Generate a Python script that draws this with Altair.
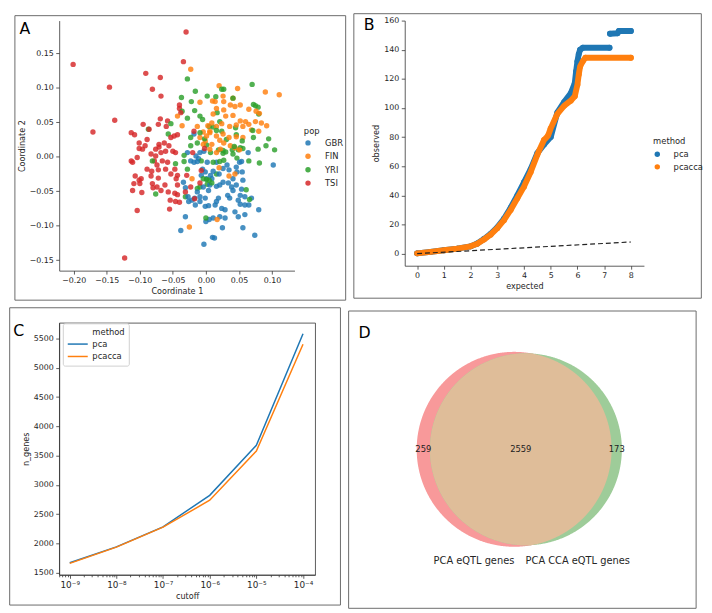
import math
import numpy as np
import pandas as pd
import altair as alt

FONT = "DejaVu Sans"
INK = "#262626"
BORDER = "#6b6b6b"

# ---------------- Panel A: MDS coordinates per population ----------------
pop_names = ["GBR", "FIN", "YRI", "TSI"]
pop_colors = ["#1f77b4", "#ff7f0e", "#2ca02c", "#d62728"]

gbr_pts = [(-0.018, 0.033), (-0.028, 0.006), (-0.015, 0.001), (-0.011, -0.003), (-0.003, 0.008),
           (0.002, -0.008), (-0.005, -0.018), (-0.001, -0.022), (0.001, -0.032), (-0.007, -0.027),
           (0.007, -0.027), (0.016, -0.008), (0.026, -0.017), (0.032, -0.012), (0.035, -0.019),
           (0.041, -0.032), (0.047, -0.022), (0.055, -0.022), (0.064, 0.006), (0.102, -0.012),
           (0.054, -0.007), (-0.031, -0.045), (-0.034, -0.037), (-0.017, -0.060), (-0.009, -0.065),
           (-0.001, -0.072), (0.004, -0.071), (0.014, -0.070), (0.016, -0.065), (0.019, -0.060),
           (0.024, -0.075), (0.029, -0.077), (0.033, -0.056), (0.036, -0.060), (0.041, -0.049),
           (0.052, -0.056), (0.052, -0.069), (0.049, -0.063), (0.054, -0.047), (0.059, -0.058),
           (0.065, -0.070), (0.069, -0.060), (0.059, -0.084), (0.049, -0.087), (0.044, -0.080),
           (0.029, -0.089), (0.021, -0.087), (0.011, -0.089), (0.005, -0.091), (0.000, -0.094),
           (-0.016, -0.070), (-0.021, -0.063), (-0.031, -0.087), (-0.038, -0.107), (-0.003, -0.127),
           (0.010, -0.117), (0.013, -0.118), (0.025, -0.103), (0.056, -0.103), (0.074, -0.114),
           (0.080, -0.077), (0.059, -0.070), (0.016, -0.043), (0.021, -0.041), (0.009, -0.032),
           (0.006, -0.041), (0.026, -0.037), (0.034, -0.038), (0.039, -0.044), (0.046, -0.041),
           (0.056, -0.034), (0.046, -0.015), (0.051, -0.008), (-0.009, -0.058), (-0.001, -0.060),
           (0.004, -0.049), (-0.004, -0.044), (-0.018, -0.008), (-0.023, -0.006), (-0.013, -0.007),
           (-0.009, 0.006), (0.011, -0.021), (0.020, -0.025), (-0.027, -0.058), (-0.026, -0.065),
           (-0.013, -0.051)]

fin_pts = [(-0.023, 0.127), (0.020, 0.103), (0.048, 0.099), (0.090, 0.094), (0.111, 0.090),
           (0.026, 0.088), (0.041, 0.085), (-0.009, 0.079), (0.010, 0.081), (0.014, 0.080),
           (0.027, 0.080), (0.037, 0.075), (0.044, 0.073), (0.052, 0.075), (0.065, 0.069),
           (0.076, 0.066), (0.081, 0.063), (0.016, 0.070), (0.011, 0.062), (0.027, 0.068),
           (0.030, 0.059), (0.041, 0.060), (0.052, 0.052), (0.060, 0.051), (0.065, 0.047),
           (0.075, 0.051), (0.084, 0.049), (0.092, 0.045), (0.080, 0.037), (0.069, 0.039),
           (0.056, 0.044), (0.046, 0.046), (0.036, 0.044), (0.024, 0.048), (0.016, 0.044),
           (0.003, 0.045), (-0.004, 0.036), (0.006, 0.035), (0.016, 0.030), (0.026, 0.033),
           (0.035, 0.028), (0.046, 0.029), (0.056, 0.028), (-0.013, 0.044), (-0.009, 0.028),
           (-0.001, 0.023), (0.009, 0.018), (0.021, 0.024), (0.027, 0.020), (0.037, 0.016),
           (0.044, 0.013), (0.051, 0.010), (0.022, 0.011), (0.016, 0.006), (0.006, 0.011),
           (-0.004, 0.018), (-0.043, 0.059), (-0.036, 0.045), (-0.021, -0.032), (-0.025, -0.102),
           (0.017, -0.091), (0.035, -0.028), (0.044, -0.025), (0.020, -0.016), (0.006, 0.037),
           (0.001, 0.030), (0.009, 0.049)]

yri_pts = [(-0.028, 0.113), (-0.016, 0.095), (0.024, 0.098), (0.027, 0.098), (0.070, 0.105),
           (-0.037, 0.086), (-0.022, 0.080), (0.002, 0.088), (0.015, 0.087), (0.017, 0.064),
           (0.041, 0.085), (0.072, 0.076), (0.075, 0.074), (0.079, 0.072), (0.080, 0.062),
           (-0.036, 0.066), (-0.017, 0.067), (-0.009, 0.059), (-0.005, 0.054), (-0.028, 0.056),
           (-0.053, 0.048), (-0.057, 0.033), (-0.087, 0.040), (0.005, 0.044), (0.011, 0.043),
           (0.021, 0.051), (0.024, 0.037), (0.031, 0.025), (0.045, 0.042), (0.046, 0.032),
           (0.071, 0.038), (0.072, 0.028), (0.095, 0.026), (0.079, 0.011), (0.091, 0.016),
           (0.104, 0.010), (-0.013, 0.020), (0.001, 0.017), (0.007, 0.006), (0.019, 0.010),
           (0.026, 0.009), (0.030, 0.007), (0.040, 0.010), (0.049, 0.010), (0.052, 0.013),
           (0.056, 0.012), (0.055, 0.023), (-0.002, 0.026), (-0.023, 0.016), (-0.033, 0.002),
           (-0.081, -0.006), (-0.046, -0.010), (-0.033, -0.007), (-0.028, -0.018), (-0.007, -0.006),
           (0.011, -0.008), (0.021, -0.007), (0.027, -0.005), (0.047, -0.002), (0.065, -0.006),
           (0.081, -0.009), (0.001, -0.033), (0.002, -0.040), (-0.013, -0.046), (-0.009, -0.044),
           (-0.004, -0.032), (0.005, -0.034), (0.009, -0.038), (0.016, -0.025), (0.000, -0.089),
           (0.066, -0.062), (0.061, -0.048), (-0.076, -0.054), (-0.031, -0.058), (0.026, 0.005),
           (0.041, 0.004), (-0.023, 0.028), (-0.009, 0.035), (0.016, 0.038), (0.043, 0.015)]

tsi_pts = [(-0.201, 0.134), (-0.030, 0.181), (-0.034, 0.138), (-0.146, 0.101), (-0.091, 0.121),
           (-0.069, 0.115), (-0.081, 0.098), (-0.068, 0.088), (-0.138, 0.053), (-0.171, 0.036),
           (-0.123, -0.147), (-0.104, -0.078), (-0.055, -0.076), (-0.040, 0.075), (-0.040, 0.070),
           (-0.038, 0.064), (-0.069, 0.055), (-0.058, 0.052), (-0.072, 0.047), (-0.060, 0.044),
           (-0.095, 0.047), (-0.113, 0.035), (-0.108, 0.032), (-0.089, 0.025), (-0.101, 0.012),
           (-0.096, 0.011), (-0.092, 0.016), (-0.111, -0.008), (-0.113, -0.006), (-0.104, -0.001),
           (-0.083, 0.004), (-0.076, 0.011), (-0.071, 0.018), (-0.071, 0.014), (-0.063, 0.020),
           (-0.056, 0.016), (-0.053, 0.028), (-0.048, 0.030), (-0.043, 0.032), (-0.050, 0.008),
           (-0.046, 0.006), (-0.061, 0.008), (-0.068, 0.006), (-0.076, 0.001), (-0.078, -0.006),
           (-0.066, -0.006), (-0.058, -0.008), (-0.074, -0.012), (-0.089, -0.018), (-0.082, -0.021),
           (-0.072, -0.019), (-0.061, -0.018), (-0.047, -0.018), (-0.043, -0.027), (-0.053, -0.025),
           (-0.072, -0.031), (-0.083, -0.028), (-0.098, -0.032), (-0.101, -0.034), (-0.109, -0.039),
           (-0.100, -0.039), (-0.111, -0.049), (-0.097, -0.052), (-0.081, -0.039), (-0.080, -0.045),
           (-0.074, -0.044), (-0.062, -0.041), (-0.045, -0.032), (-0.043, -0.041), (-0.047, -0.053),
           (-0.057, -0.051), (-0.068, -0.049), (-0.054, -0.063), (-0.046, -0.065), (-0.040, -0.066),
           (-0.043, -0.055), (-0.031, -0.051), (-0.017, -0.061), (-0.023, -0.044), (-0.009, -0.038),
           (-0.020, 0.006), (-0.018, 0.037), (-0.002, 0.012), (-0.007, -0.020), (-0.029, -0.027),
           (-0.086, 0.040), (-0.101, 0.020), (-0.107, -0.028)]

a_xticks = [-0.20, -0.15, -0.10, -0.05, 0.00, 0.05, 0.10]
a_yticks = [-0.15, -0.10, -0.05, 0.00, 0.05, 0.10, 0.15]

# ---------------- Panel B: QQ plot ----------------
b_exp_pca = [0, 0.5, 1, 1.5, 2, 2.25, 2.5, 2.75, 3, 3.25, 3.5, 3.75, 4, 4.25, 4.5, 4.75, 5, 5.25,
             5.5, 5.75, 5.9, 5.95, 6.0, 6.05, 6.1, 6.2, 7.2, 7.22, 7.5, 7.55, 8.0]
b_obs_pca = [0.2, 1.2, 2.3, 3.4, 5.0, 7, 10, 13.5, 18, 24, 31.5, 40, 49, 58, 69, 75, 80, 97,
             104, 110, 117, 125, 132, 137, 140, 141.3, 141.3, 151, 151.3, 152.8, 152.8]
b_seg_pca = [0] * 27 + [1] * 4
b_exp_pcacca = [0, 0.5, 1, 1.5, 2, 2.25, 2.5, 2.75, 3, 3.25, 3.5, 3.75, 4, 4.25, 4.5, 4.75, 4.9,
                5, 5.25, 5.5, 5.75, 5.9, 6.0, 6.05, 6.1, 6.2, 6.3, 8.0]
b_obs_pcacca = [0.2, 1.2, 2.3, 3.4, 5.0, 6.8, 9.7, 13, 17.5, 23, 30, 38, 46, 56, 68, 78, 81,
                86, 96, 101.5, 105, 108, 116, 123, 128.5, 132, 134.5, 134.5]
b_diag = [0, 8]
methods = ["pca", "pcacca"]
method_colors = ["#1f77b4", "#ff7f0e"]

# ---------------- Panel C: genes vs cutoff ----------------
cutoffs = [1e-9, 1e-8, 1e-7, 1e-6, 1e-5, 1e-4]
n_genes_pca = [1668, 1938, 2281, 2820, 3675, 5584]
n_genes_pcacca = [1657, 1935, 2276, 2736, 3578, 5404]
c_yticks = [1500, 2000, 2500, 3000, 3500, 4000, 4500, 5000, 5500]

# ---------------- Panel D: Venn ----------------
venn_a_only = 259
venn_both = 2559
venn_b_only = 173
venn_set_labels = ["PCA eQTL genes", "PCA CCA eQTL genes"]
venn_colors = ["#f8999a", "#9ecc99", "#dfbd99"]


# ---------- helpers ----------
def frame(x1, x2, y1, y2):
    return alt.Chart(pd.DataFrame({"k": [0]})).mark_rect(
        filled=False, stroke=BORDER, strokeWidth=1
    ).encode(x=alt.value(x1), x2=alt.value(x2), y=alt.value(y1), y2=alt.value(y2))


def letter(t, x, y):
    return alt.Chart(pd.DataFrame({"t": [t]})).mark_text(
        align="left", baseline="alphabetic", font=FONT, fontSize=16, color="black"
    ).encode(text="t:N", x=alt.value(x), y=alt.value(y))


# ---------- Panel A ----------
rows = []
groups = [gbr_pts, fin_pts, yri_pts, tsi_pts]
for i in range(max(len(g) for g in groups)):
    for name, g in zip(pop_names, groups):
        if i < len(g):
            rows.append({"c1": g[i][0], "c2": g[i][1], "pop": name})
df_a = pd.DataFrame(rows)

scatter_a = alt.Chart(df_a).mark_circle(size=30, opacity=0.82).encode(
    x=alt.X("c1:Q", scale=alt.Scale(domain=[-0.2221, 0.1341], nice=False, zero=False),
            axis=alt.Axis(values=a_xticks, format=".2f", title="Coordinate 1")),
    y=alt.Y("c2:Q", scale=alt.Scale(domain=[-0.1653, 0.1976], nice=False, zero=False),
            axis=alt.Axis(values=a_yticks, format=".2f", title="Coordinate 2")),
    color=alt.Color("pop:N", sort=pop_names,
                    scale=alt.Scale(domain=pop_names, range=pop_colors),
                    legend=alt.Legend(title="pop", orient="none", legendX=248.5, legendY=108.5,
                                      symbolSize=30, labelOffset=13, titlePadding=3,
                                      rowPadding=4.6, symbolOpacity=0.85)),
)
panel_a = alt.layer(scatter_a, letter("A", -40.3, 13.7), frame(-45, 291, -5, 284)).properties(
    width=239, height=254)

# ---------- Panel B ----------
df_b = pd.concat([
    pd.DataFrame({"expected": b_exp_pca, "observed": b_obs_pca, "seg": b_seg_pca, "method": "pca"}),
    pd.DataFrame({"expected": b_exp_pcacca, "observed": b_obs_pcacca,
                  "seg": [0] * len(b_exp_pcacca), "method": "pcacca"}),
], ignore_index=True)
bx = alt.X("expected:Q", scale=alt.Scale(domain=[-0.464, 8.49], nice=False, zero=False),
           axis=alt.Axis(values=list(range(0, 9)), title="expected"))
by = alt.Y("observed:Q", scale=alt.Scale(domain=[-8.3, 160.0], nice=False, zero=False),
           axis=alt.Axis(values=list(range(0, 161, 20)), title="observed"))

pts_b = alt.Chart(df_b).mark_circle(size=36, opacity=1).encode(
    x=bx, y=by,
    color=alt.Color("method:N", scale=alt.Scale(domain=methods, range=method_colors),
                    legend=alt.Legend(title="method", orient="none", legendX=252.3, legendY=118,
                                      symbolSize=30, labelOffset=12.3, titlePadding=5,
                                      rowPadding=3.8)),
)
line_pca = alt.Chart(df_b[df_b.method == "pca"]).mark_line(
    strokeWidth=6, strokeCap="round", strokeJoin="round", color=method_colors[0]
).encode(x=bx, y=by, detail="seg:N")
line_pcacca = alt.Chart(df_b[df_b.method == "pcacca"]).mark_line(
    strokeWidth=6, strokeCap="round", strokeJoin="round", color=method_colors[1]
).encode(x=bx, y=by, detail="seg:N")
diag = alt.Chart(pd.DataFrame({"expected": b_diag, "observed": b_diag})).mark_line(
    color="#222222", strokeDash=[5, 3], strokeWidth=1.2
).encode(x=bx, y=by)

panel_b = alt.layer(
    pts_b, line_pca, line_pcacca, diag, letter("B", -41.7, 10), frame(-51.7, 301.3, -7, 282)
).properties(width=243, height=249)

# ---------- Panel C ----------
df_c = pd.concat([
    pd.DataFrame({"cutoff": cutoffs, "n_genes": n_genes_pca, "method": "pca"}),
    pd.DataFrame({"cutoff": cutoffs, "n_genes": n_genes_pcacca, "method": "pcacca"}),
], ignore_index=True)
c_lo, c_hi = -9.226, -3.74
c_scale = alt.Scale(type="log", domain=[10 ** c_lo, 10 ** c_hi], nice=False)
expr = ("datum.value < 3e-9 ? '10⁻⁹' : datum.value < 3e-8 ? '10⁻⁸' : "
        "datum.value < 3e-7 ? '10⁻⁷' : datum.value < 3e-6 ? '10⁻⁶' : "
        "datum.value < 3e-5 ? '10⁻⁵' : '10⁻⁴'")
minor_vals = []
for e in range(-10, -3):
    for m in range(2, 10):
        v = m * 10.0 ** e
        if c_lo < math.log10(v) < c_hi:
            minor_vals.append(v)

lines_c = alt.Chart(df_c).mark_line(strokeWidth=1.5).encode(
    x=alt.X("cutoff:Q", scale=c_scale,
            axis=alt.Axis(values=cutoffs, labelExpr=expr, title="cutoff", orient="bottom",
                          labelFontSize=9)),
    y=alt.Y("n_genes:Q", scale=alt.Scale(domain=[1461, 5770], nice=False, zero=False),
            axis=alt.Axis(values=c_yticks, format="d", title="n_genes")),
    color=alt.Color("method:N",
                    scale=alt.Scale(domain=["method", "pca", "pcacca"],
                                    range=["rgba(0,0,0,0)"] + method_colors),
                    legend=alt.Legend(title=None, orient="none", legendX=3.7, legendY=0.5,
                                      symbolType="M-1,0H4.8", symbolSize=49,
                                      symbolStrokeWidth=1.5,
                                      labelOffset=17, padding=4, fillColor="white",
                                      strokeColor="#d0d0d0", cornerRadius=2, rowPadding=3.6)),
)
minor_c = alt.Chart(df_c).mark_point(opacity=0).encode(
    x=alt.X("cutoff:Q", scale=c_scale,
            axis=alt.Axis(values=minor_vals, labels=False, tickSize=2, domain=False,
                          title=None, orient="bottom")),
)
panel_c = alt.layer(
    lines_c, minor_c, letter("C", -46.6, 13.4), frame(-50.3, 285.7, -15.3, 286.7)
).resolve_axis(x="independent").properties(
    width=260, height=256, view=alt.ViewBackground(stroke="#333333", strokeWidth=0.8))


# ---------- Panel D ----------
def lens_area(d, r1, r2):
    a1 = r1 * r1 * math.acos((d * d + r1 * r1 - r2 * r2) / (2 * d * r1))
    a2 = r2 * r2 * math.acos((d * d + r2 * r2 - r1 * r1) / (2 * d * r2))
    a3 = 0.5 * math.sqrt((-d + r1 + r2) * (d + r1 - r2) * (d - r1 + r2) * (d + r1 + r2))
    return a1 + a2 - a3


ra = 1.0
rb = math.sqrt((venn_both + venn_b_only) / (venn_both + venn_a_only))
target = math.pi * ra * ra * venn_both / (venn_both + venn_a_only)
lo, hi = abs(ra - rb) + 1e-9, ra + rb - 1e-9
for _ in range(200):
    mid = 0.5 * (lo + hi)
    if lens_area(mid, ra, rb) > target:
        lo = mid
    else:
        hi = mid
dd = 0.5 * (lo + hi)

t = np.linspace(0, np.pi, 500)
red_x = ra * np.cos(t)
red_h = ra * np.sin(t)
grn_x = dd + rb * np.cos(t)
grn_h = rb * np.sin(t)
df_red = pd.DataFrame({"x": red_x, "ylo": -red_h, "yhi": red_h}).sort_values("x")
df_grn = pd.DataFrame({"x": grn_x, "ylo": -grn_h, "yhi": grn_h}).sort_values("x")
lx = np.sort(np.concatenate([red_x[red_x >= dd - rb], grn_x[grn_x <= ra]]))
lh = np.minimum(np.sqrt(np.clip(ra ** 2 - lx ** 2, 0, None)),
                np.sqrt(np.clip(rb ** 2 - (lx - dd) ** 2, 0, None)))
df_lens = pd.DataFrame({"x": lx, "ylo": -lh, "yhi": lh})

PX = 99.0
DW, DH = 338, 285
xmid = (-ra + dd + rb) / 2
dx_scale = alt.Scale(domain=[xmid - 162.35 / PX, xmid + (DW - 162.35) / PX], nice=False, zero=False)
dy_scale = alt.Scale(domain=[-(DH - 128.5) / PX, 128.5 / PX], nice=False, zero=False)


def venn_area(df, col):
    return alt.Chart(df).mark_area(color=col, opacity=1).encode(
        x=alt.X("x:Q", scale=dx_scale, axis=None),
        y=alt.Y("ylo:Q", scale=dy_scale, axis=None),
        y2="yhi:Q",
    )


df_counts = pd.DataFrame({
    "x": [(-ra + dd - rb) / 2, (dd - rb + ra) / 2, (ra + dd + rb) / 2],
    "y": [0, 0, 0],
    "t": [str(venn_a_only), str(venn_both), str(venn_b_only)],
})
df_setlab = pd.DataFrame({
    "x": [xmid - 0.465, xmid + 0.60],
    "y": [-1.15, -1.143],
    "t": venn_set_labels,
})
counts_d = alt.Chart(df_counts).mark_text(font=FONT, fontSize=8.5, color="#222222",
                                          baseline="middle").encode(
    x=alt.X("x:Q", scale=dx_scale, axis=None), y=alt.Y("y:Q", scale=dy_scale, axis=None),
    text="t:N")
setlab_d = alt.Chart(df_setlab).mark_text(font=FONT, fontSize=10, color=INK,
                                          baseline="middle").encode(
    x=alt.X("x:Q", scale=dx_scale, axis=None), y=alt.Y("y:Q", scale=dy_scale, axis=None),
    text="t:N")

panel_d = alt.layer(
    venn_area(df_red, venn_colors[0]), venn_area(df_grn, venn_colors[1]),
    venn_area(df_lens, venn_colors[2]), counts_d, setlab_d,
    letter("D", -1, 15), frame(-11, 342, -12, 290)
).properties(width=DW, height=DH)

row1 = alt.hconcat(panel_a, panel_b, spacing=6).resolve_scale(color="independent").resolve_legend(color="independent")
row2 = alt.hconcat(panel_c, panel_d, spacing=6).resolve_scale(color="independent").resolve_legend(color="independent")

chart = alt.vconcat(row1, row2, spacing=5).resolve_scale(color="independent").resolve_legend(
    color="independent"
).properties(
    padding=0, background="white"
).configure(padding=0).configure_view(stroke=None).configure_axis(
    labelFont=FONT, titleFont=FONT, labelFontSize=8, titleFontSize=8.2,
    labelColor=INK, titleColor=INK, domainColor="#333333", tickColor="#333333",
    domainWidth=0.8, tickWidth=0.8, tickSize=3.5, grid=False, titleFontWeight="normal",
    labelPadding=2.5, titlePadding=3,
).configure_legend(
    labelFont=FONT, titleFont=FONT, labelFontSize=8.5, titleFontSize=8.5,
    labelColor=INK, titleColor=INK, titleFontWeight="normal",
)

chart.save("out.html", embed_options={"renderer": "svg", "actions": False})
